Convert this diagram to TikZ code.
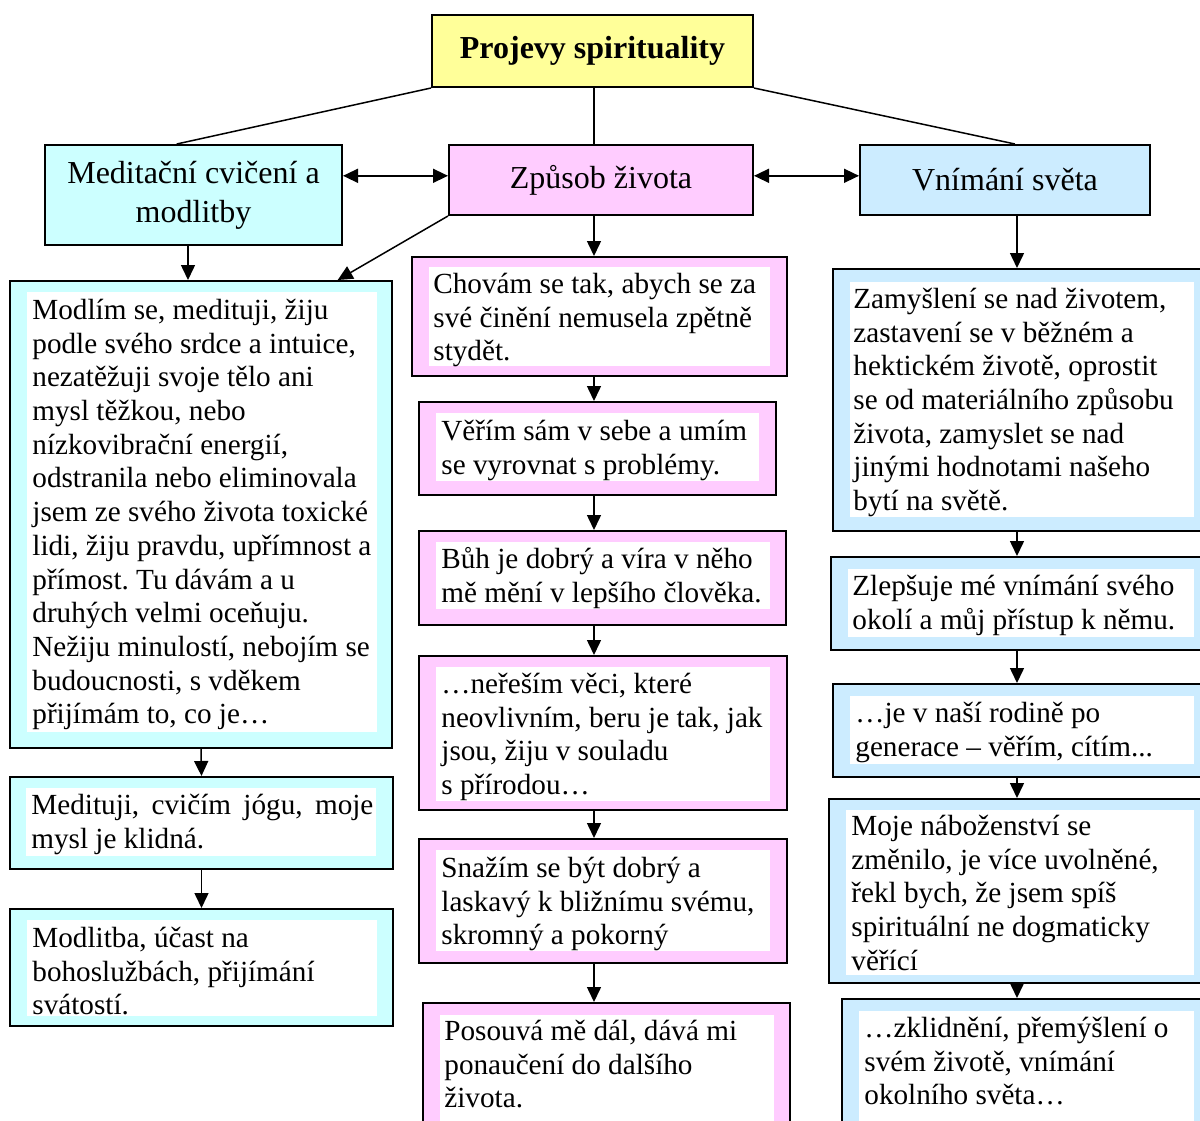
\documentclass[tikz,border=0pt]{standalone}
\usepackage{fontspec}
\setmainfont{Liberation Serif}
\usetikzlibrary{arrows.meta,fit,calc}
\frenchspacing

\definecolor{cyanbox}{HTML}{CCFFFF}
\definecolor{pinkbox}{HTML}{FFCCFF}
\definecolor{bluebox}{HTML}{CCECFF}
\definecolor{yellowbox}{HTML}{FFFF99}

\newcommand\bodyfont{\fontsize{14.6}{16.85}\selectfont}
\newcommand\headfont{\fontsize{16}{19.5}\selectfont}
\newcommand\titlefont{\bfseries\fontsize{16}{19}\selectfont}

% coloured frame with a white text field; the text is clipped to the field
\newcommand\panel[6]{%
  \node[panelbox, fill=#2, fit={#3}] (#1) {};
  \node[panelinner, fit={#4}] (#1-in) {};
  \begin{scope}
    \clip (#1-in.south west) rectangle (#1-in.north east);
    \node[paneltext] (#1-txt) at #5 {\rule{0pt}{11.7pt}#6};
  \end{scope}}

\tikzset{
  x=0.5pt, y=-0.5pt,
  head/.style={draw, line width=1pt, rectangle, inner sep=0pt, font=\headfont, align=center},
  panelbox/.style={draw, line width=1pt, rectangle, inner sep=0pt},
  panelinner/.style={fill=white, rectangle, inner sep=0pt},
  paneltext/.style={anchor=north west, inner sep=0pt, align=left, font=\bodyfont},
  link/.style={line width=0.75pt},
  arr/.style={line width=0.75pt, -{Triangle[length=7.5pt,width=7pt]}},
  dbl/.style={line width=0.75pt, {Triangle[length=7.5pt,width=7pt]}-{Triangle[length=7.5pt,width=7pt]}},
}

\begin{document}
\begin{tikzpicture}
\useasboundingbox (0,0) rectangle (1200,1120);
\clip (0,0) rectangle (1200,1120);

% headings
\node[head, fill=yellowbox, minimum width=160.5pt, minimum height=36pt, font=\titlefont] (title) at (592.5,51) {Projevy spirituality};
\node[head, fill=cyanbox, minimum width=148.5pt, minimum height=50pt] (med) at (193.5,195) {Meditační cvičení a\\modlitby};
\node[head, fill=pinkbox, minimum width=152pt, minimum height=35pt] (zp) at (601,180) {Způsob života};
\node[head, fill=bluebox, minimum width=145pt, minimum height=35pt] (vn) at (1005,180) {Vnímání světa};

% left column
\panel{mod}{cyanbox}{(10,281) (392,748)}{(27,292) (377,732)}{(32,295.6)}{%
Modlím se, medituji, žiju\\
podle svého srdce a intuice,\\
nezatěžuji svoje tělo ani\\
mysl těžkou, nebo\\
nízkovibrační energií,\\
odstranila nebo eliminovala\\
jsem ze svého života toxické\\
lidi, žiju pravdu, upřímnost a\\
přímost. Tu dávám a u\\
druhých velmi oceňuju.\\
Nežiju minulostí, nebojím se\\
budoucnosti, s vděkem\\
přijímám to, co je…}
\panel{medit}{cyanbox}{(10,777) (393,869)}{(26,788) (376,856)}{(31,790.6)}{%
\makebox[171pt][s]{Medituji, cvičím jógu, moje}\\
mysl je klidná.}
\panel{modl}{cyanbox}{(10,909) (393,1026)}{(27,920) (377,1016)}{(32,923.6)}{%
Modlitba, účast na\\
bohoslužbách, přijímání\\
svátostí.}

% middle column
\panel{chov}{pinkbox}{(412,257) (787,376)}{(429,267) (770,366)}{(433,269.6)}{%
Chovám se tak, abych se za\\
své činění nemusela zpětně\\
stydět.}
\panel{ver}{pinkbox}{(419,402) (776,495)}{(436,413) (759,481)}{(441,416.6)}{%
Věřím sám v sebe a umím\\
se vyrovnat s problémy.}
\panel{buh}{pinkbox}{(419,531) (786,625)}{(436,542) (770,609)}{(441,544.6)}{%
Bůh je dobrý a víra v něho\\
mě mění v lepšího člověka.}
\panel{ner}{pinkbox}{(419,656) (787,810)}{(436,667) (770,801)}{(441,669.6)}{%
…neřeším věci, které\\
neovlivním, beru je tak, jak\\
jsou, žiju v souladu\\
s přírodou…}
\panel{snaz}{pinkbox}{(419,839) (787,963)}{(436,850) (770,951)}{(441,853.6)}{%
Snažím se být dobrý a\\
laskavý k bližnímu svému,\\
skromný a pokorný}
\panel{pos}{pinkbox}{(423,1003) (790,1140)}{(440,1015) (774,1130)}{(444,1016.6)}{%
Posouvá mě dál, dává mi\\
ponaučení do dalšího\\
života.}

% right column
\panel{zam}{bluebox}{(833,269) (1210,531)}{(850,282) (1194,517)}{(853,284.6)}{%
Zamyšlení se nad životem,\\
zastavení se v běžném a\\
hektickém životě, oprostit\\
se od materiálního způsobu\\
života, zamyslet se nad\\
jinými hodnotami našeho\\
bytí na světě.}
\panel{zlep}{bluebox}{(831,557) (1210,650)}{(848,569) (1194,637)}{(852,571.6)}{%
Zlepšuje mé vnímání svého\\
okolí a můj přístup k němu.}
\panel{gen}{bluebox}{(833,684) (1210,777)}{(850,696) (1194,764)}{(855,698.6)}{%
…je v naší rodině po\\
generace – věřím, cítím...}
\panel{moje}{bluebox}{(829,799) (1210,983)}{(846,810) (1194,975)}{(851,811.6)}{%
Moje náboženství se\\
změnilo, je více uvolněné,\\
řekl bych, že jsem spíš\\
spirituální ne dogmaticky\\
věřící}
\panel{zkl}{bluebox}{(842,999) (1210,1140)}{(859,1011) (1194,1130)}{(864,1013.6)}{%
…zklidnění, přemýšlení o\\
svém životě, vnímání\\
okolního světa…}

% connector axes
\coordinate (axisM) at (594,0);
\coordinate (axisR) at (1017,0);
\coordinate (hrow) at ([yshift=2.1pt]zp.west);
\coordinate (medaxis) at ([xshift=-2.75pt]med.south);

% links from the title
\draw[link] (title.south west) -- ($(med.north west)!0.444!(med.north east)$);
\draw[link] (title.south -| axisM) -- (zp.north -| axisM);
\draw[link] (title.south east) -- ($(vn.north west)!0.534!(vn.north east)$);

% links between the headings
\draw[dbl] (med.east |- hrow) -- (hrow);
\draw[dbl] (zp.east |- hrow) -- (vn.west |- hrow);

% left column arrows
\draw[arr] (medaxis) -- (medaxis |- mod.north);
\draw[arr] (zp.south west) -- ($(mod.north west)!0.856!(mod.north east)$);
\draw[arr] (mod.south) -- (medit.north);
\draw[arr] (medit.south) -- (modl.north);

% middle column arrows
\draw[arr] (zp.south -| axisM) -- (chov.north -| axisM);
\draw[arr] (chov.south -| axisM) -- (ver.north -| axisM);
\draw[arr] (ver.south -| axisM) -- (buh.north -| axisM);
\draw[arr] (buh.south -| axisM) -- (ner.north -| axisM);
\draw[arr] (ner.south -| axisM) -- (snaz.north -| axisM);
\draw[arr] (snaz.south -| axisM) -- (pos.north -| axisM);

% right column arrows
\draw[arr] (vn.south -| axisR) -- (zam.north -| axisR);
\draw[arr] (zam.south -| axisR) -- (zlep.north -| axisR);
\draw[arr] (zlep.south -| axisR) -- (gen.north -| axisR);
\draw[arr] (gen.south -| axisR) -- (moje.north -| axisR);
\draw[arr] (moje.south -| axisR) -- (zkl.north -| axisR);
\end{tikzpicture}
\end{document}
